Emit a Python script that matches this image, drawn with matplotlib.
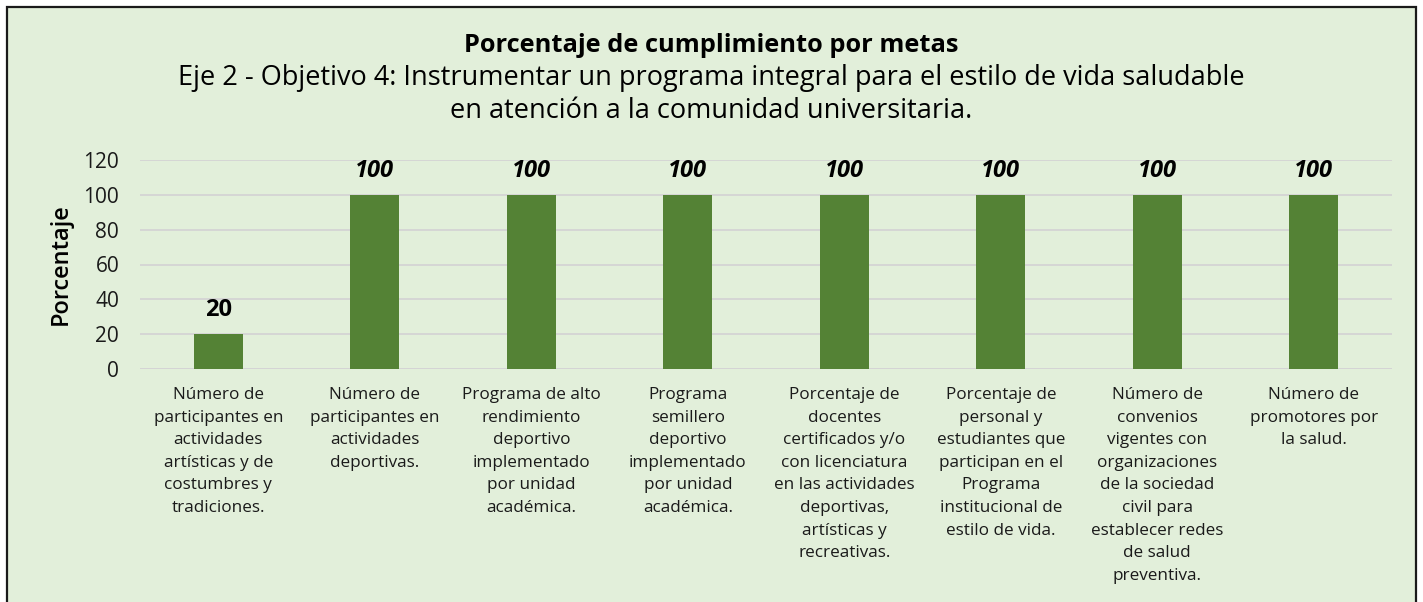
import matplotlib.pyplot as plt
from matplotlib.patches import Rectangle

plt.rcParams['font.family'] = ['Open Sans', 'DejaVu Sans']

categorias = [
    "Número de\nparticipantes en\nactividades\nartísticas y de\ncostumbres y\ntradiciones.",
    "Número de\nparticipantes en\nactividades\ndeportivas.",
    "Programa de alto\nrendimiento\ndeportivo\nimplementado\npor unidad\nacadémica.",
    "Programa\nsemillero\ndeportivo\nimplementado\npor unidad\nacadémica.",
    "Porcentaje de\ndocentes\ncertificados y/o\ncon licenciatura\nen las actividades\ndeportivas,\nartísticas y\nrecreativas.",
    "Porcentaje de\npersonal y\nestudiantes que\nparticipan en el\nPrograma\ninstitucional de\nestilo de vida.",
    "Número de\nconvenios\nvigentes con\norganizaciones\nde la sociedad\ncivil para\nestablecer redes\nde salud\npreventiva.",
    "Número de\npromotores por\nla salud.",
]
valores = [20, 100, 100, 100, 100, 100, 100, 100]
yticks = [0, 20, 40, 60, 80, 100, 120]

fondo = '#E2EFDA'
verde = '#548235'
W, H = 1423, 602

fig = plt.figure(figsize=(W / 100, H / 100), dpi=100, facecolor='white')
# marco exterior
fig.patches.append(Rectangle((7 / W, -0.02), 1409 / W, 1 - 7 / H + 0.02,
                             transform=fig.transFigure, facecolor=fondo,
                             edgecolor='#1a1a1a', linewidth=1.6, zorder=-10))

ax = fig.add_axes([140 / W, 1 - 369 / H, (1392 - 140) / W, 209 / H])
ax.patch.set_alpha(0)

x = range(len(valores))
ax.bar(x, valores, width=0.31, color=verde, zorder=3)
ax.set_xlim(-0.5, len(valores) - 0.5)
ax.set_ylim(0, 120)
ax.set_yticks(yticks)
ax.yaxis.grid(True, color='#D4D4D4', linewidth=1.3, zorder=0)
for s in ax.spines.values():
    s.set_visible(False)
ax.axhline(0, color='#D4D4D4', linewidth=1.3, zorder=2)
ax.tick_params(axis='both', length=0)
ax.tick_params(axis='y', labelsize=15, colors='#1a1a1a', pad=15)
ax.set_xticks(list(x))
ax.set_xticklabels(categorias, fontsize=12.3, color='#1a1a1a', linespacing=1.55,
                   va='top')
ax.tick_params(axis='x', pad=13)
ax.set_ylabel('Porcentaje', fontsize=17, fontweight='semibold', labelpad=8)

for i, v in enumerate(valores):
    ax.text(i, v + 13.8, str(v), ha='center', va='center', fontsize=17,
            fontweight='bold', style='normal' if v == 20 else 'italic',
            color='black')

fig.text(0.5, 1 - 45 / H, 'Porcentaje de cumplimiento por metas', ha='center',
         va='center', fontsize=18.3, fontweight='bold')
fig.text(0.5, 1 - 78 / H,
         'Eje 2 - Objetivo 4: Instrumentar un programa integral para el estilo de vida saludable',
         ha='center', va='center', fontsize=19.5)
fig.text(0.5, 1 - 111 / H, 'en atención a la comunidad universitaria.',
         ha='center', va='center', fontsize=19.5)

fig.savefig('out.png', dpi=100, facecolor='white')
